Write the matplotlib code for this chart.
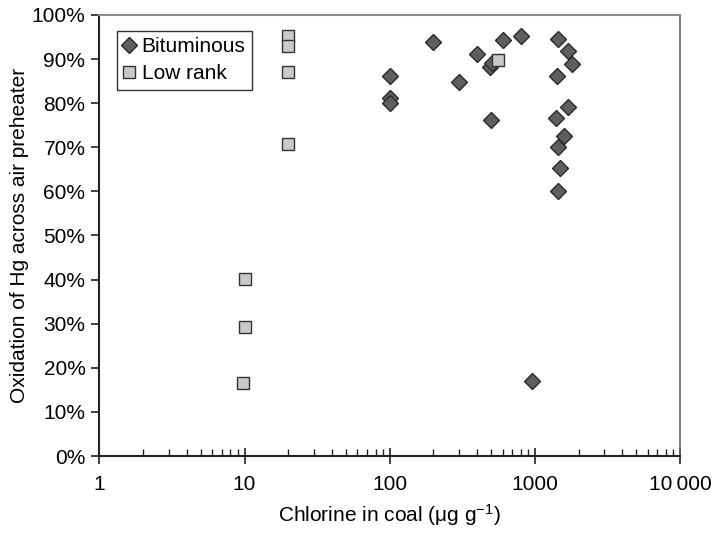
"""plot.py

Oxidation of Hg across the air preheater vs chlorine in coal.
"""
import matplotlib
matplotlib.use('Agg')
import matplotlib.pyplot as plt
from matplotlib.ticker import FixedLocator, FixedFormatter, LogLocator, NullFormatter, PercentFormatter

# -- DATA
bit_cl = [100, 100, 100, 200, 300, 400, 490, 510, 500, 600, 800, 950,
          1450, 1700, 1800, 1430, 1700, 1400, 1580, 1450, 1500, 1450]
bit_ox = [86.2, 81.2, 80.0, 93.8, 84.9, 91.2, 88.3, 89.0, 76.1, 94.4, 95.2, 16.9,
          94.6, 91.9, 88.8, 86.2, 79.2, 76.7, 72.6, 70.1, 65.3, 60.2]

low_cl = [20, 20, 20, 20, 10, 10, 9.7, 560]
low_ox = [95.2, 93.0, 87.0, 70.7, 40.1, 29.3, 16.6, 89.8]

x_ticks = [1, 10, 100, 1000, 10000]
x_ticklabels = ['1', '10', '100', '1000', '10\u2009000']


def main():
    plt.rcParams['font.family'] = ['Liberation Sans', 'DejaVu Sans']
    plt.rcParams['font.size'] = 15
    plt.rcParams['mathtext.fontset'] = 'custom'
    plt.rcParams['mathtext.rm'] = 'Liberation Sans'
    plt.rcParams['mathtext.it'] = 'Liberation Sans:italic'

    fig = plt.figure(figsize=(7.15, 5.34), dpi=100)
    ax = fig.add_axes([0.139, 0.146, 0.812, 0.826])

    # -- MARKERS
    ax.plot(bit_cl, bit_ox, linestyle='none', marker='D', markersize=8,
            markerfacecolor='#5e5e5e', markeredgecolor='#2b2b2b',
            markeredgewidth=1.0, label='Bituminous')
    ax.plot(low_cl, low_ox, linestyle='none', marker='s', markersize=9,
            markerfacecolor='#c9c9c9', markeredgecolor='#333333',
            markeredgewidth=1.0, label='Low rank')

    # -- AXES
    ax.set_xscale('log')
    ax.set_xlim(1, 10000)
    ax.set_ylim(0, 100)
    ax.xaxis.set_major_locator(FixedLocator(x_ticks))
    ax.xaxis.set_major_formatter(FixedFormatter(x_ticklabels))
    ax.xaxis.set_minor_locator(LogLocator(base=10, subs=range(2, 10)))
    ax.xaxis.set_minor_formatter(NullFormatter())
    ax.set_yticks(range(0, 101, 10))
    ax.yaxis.set_major_formatter(PercentFormatter(decimals=0))

    ax.tick_params(axis='x', which='major', direction='inout', length=11,
                   width=1.2, color='#222222', pad=8)
    ax.tick_params(axis='x', which='minor', direction='in', length=5,
                   width=1.0, color='#222222')
    ax.tick_params(axis='y', which='major', direction='out', length=6,
                   width=1.2, color='#222222', pad=4)

    for side in ['left', 'bottom']:
        ax.spines[side].set_color('#222222')
        ax.spines[side].set_linewidth(1.5)
    ax.spines['top'].set_color('#8a8a8a')
    ax.spines['top'].set_linewidth(1.5)
    ax.spines['right'].set_color('#666666')
    ax.spines['right'].set_linewidth(1.2)

    ax.set_xlabel('Chlorine in coal (\u03bcg g$^{\u22121}$)', labelpad=6)
    ax.set_ylabel('Oxidation of Hg across air preheater', labelpad=2)

    # -- LEGEND
    leg = ax.legend(loc='upper left', bbox_to_anchor=(0.0296, 0.964),
                    borderaxespad=0, fancybox=False, handlelength=0.6,
                    handletextpad=0.3, borderpad=0.3, labelspacing=0.4,
                    framealpha=1, edgecolor='#333333')
    leg.get_frame().set_linewidth(1.0)

    fig.savefig('out.png', dpi=100)


main()
